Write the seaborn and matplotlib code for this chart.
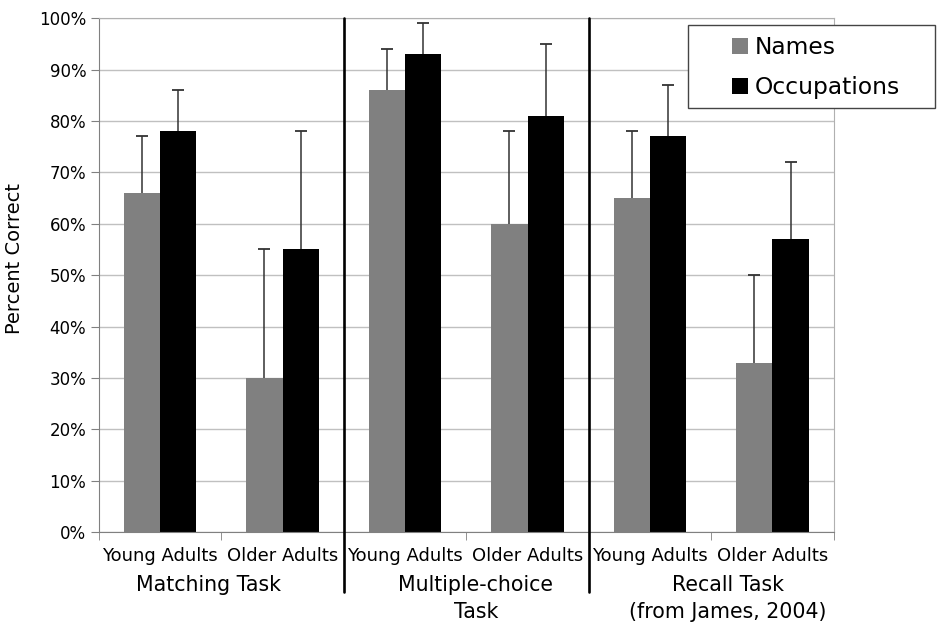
import pandas as pd
import matplotlib.pyplot as plt
import matplotlib.patches as mpatches
import matplotlib.transforms as mtransforms
import seaborn as sns

# values (percent correct)
tasks = ["Matching Task", "Multiple-choice\nTask", "Recall Task\n(from James, 2004)"]
ages = ["Young Adults", "Older Adults"]
series = ["Names", "Occupations"]
names_pct = [66, 30, 86, 60, 65, 33]
occupations_pct = [78, 55, 93, 81, 77, 57]
names_upper = [77, 55, 94, 78, 78, 50]
occupations_upper = [86, 78, 99, 95, 87, 72]

groups = [f"{t} | {a}" for t in tasks for a in ages]
df = pd.DataFrame({
    "group": groups * 2,
    "series": [series[0]] * 6 + [series[1]] * 6,
    "pct": names_pct + occupations_pct,
})

sns.set_style("white")
plt.rcParams["font.family"] = ["DejaVu Sans"]
for key in ["text.color", "axes.labelcolor", "xtick.labelcolor", "ytick.labelcolor"]:
    plt.rcParams[key] = "black"

fig = plt.figure(figsize=(9.41, 6.29), dpi=100)
ax = fig.add_axes([0.105, 0.154, 0.781, 0.817])

colors = {"Names": "#808080", "Occupations": "#000000"}
sns.barplot(data=df, x="group", y="pct", hue="series", order=groups,
            hue_order=series, palette=colors, width=0.59, errorbar=None,
            saturation=1, legend=False, linewidth=0, ax=ax, zorder=2)

# one-sided error bars
for container, uppers in zip(ax.containers, [names_upper, occupations_upper]):
    for bar, up in zip(container, uppers):
        x = bar.get_x() + bar.get_width() / 2
        ax.vlines(x, bar.get_height(), up, color="#333333", lw=1.1, zorder=3)
        ax.plot(x, up, marker="_", ms=9, mew=1.3, color="#333333", zorder=3)

ax.set_ylim(0, 100)
ax.set_xlim(-0.5, 5.5)
ax.set_yticks(range(0, 101, 10))
ax.set_yticklabels([f"{v}%" for v in range(0, 101, 10)], fontsize=12)
ax.yaxis.grid(True, color="#c0c0c0", lw=1)
ax.set_axisbelow(True)
ax.tick_params(axis="y", length=6, color="#808080", left=True, pad=3)

ax.set_xticks(range(6))
ax.set_xticklabels(ages * 3, fontsize=13)
ax.set_xticks([i - 0.5 for i in range(7)], minor=True)
ax.tick_params(axis="x", which="major", length=0, pad=11)
ax.tick_params(axis="x", which="minor", length=6, color="#808080", bottom=True)

ax.set_xlabel("")
ax.set_ylabel("Percent Correct", fontsize=14)
ax.yaxis.set_label_coords(-0.102, 0.533)

for side in ["left", "bottom"]:
    ax.spines[side].set_color("#808080")
for side in ["top", "right"]:
    ax.spines[side].set_color("#b0b0b0")

# task labels under the axis (offset a little like the original)
for t, xpos in zip(tasks, [0.398, 2.578, 4.635]):
    ax.text(xpos, -0.083, t, transform=ax.get_xaxis_transform(),
            ha="center", va="top", fontsize=14.8, linespacing=1.42)

# dividers between tasks
trans = mtransforms.blended_transform_factory(ax.transData, ax.transAxes)
for x in [1.5, 3.5]:
    ax.plot([x, x], [1.0, -0.117], transform=trans, color="black",
            lw=1.9, clip_on=False, zorder=4)

# legend: framed box drawn separately, entries placed inside
frame = mpatches.Rectangle((688 / 941, 1 - 108 / 629), (935 - 688) / 941, 83 / 629,
                           transform=fig.transFigure, facecolor="white",
                           edgecolor="#444444", lw=1.0, zorder=5)
fig.patches.append(frame)
handles = [mpatches.Patch(facecolor=colors[s], edgecolor="none", label=s) for s in series]
leg = fig.legend(handles=handles, loc="upper left", bbox_to_anchor=(732 / 941, 1 - 36 / 629),
                 fontsize=16.8, frameon=False, handlelength=0.68, handleheight=0.68,
                 handletextpad=0.3, labelspacing=0.72, borderpad=0, borderaxespad=0)
leg.set_zorder(6)

plt.savefig("out.png", dpi=100)
